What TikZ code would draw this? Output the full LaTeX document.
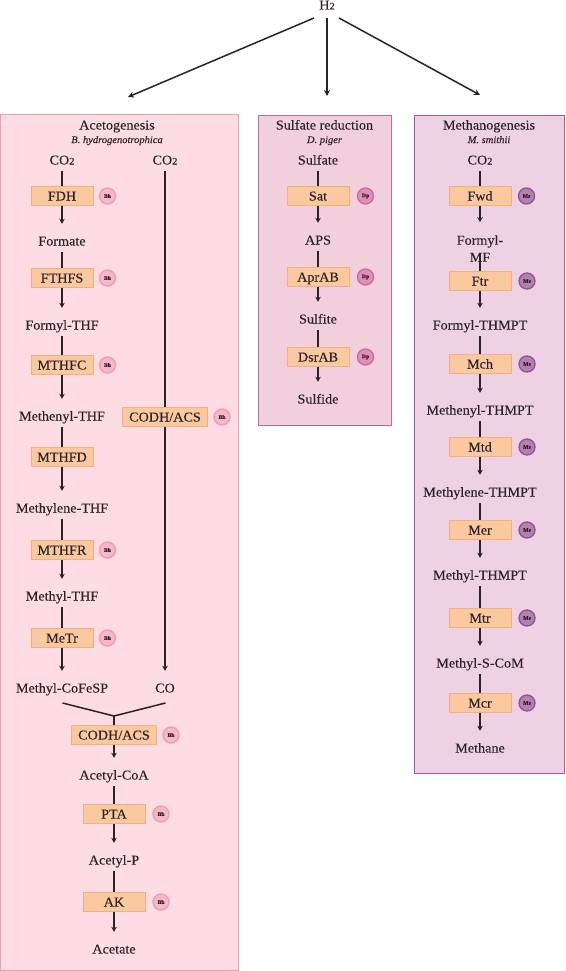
\documentclass[tikz,border=0pt]{standalone}
\usepackage{fontspec}
\setmainfont[FakeStretch=1.05,FakeBold=0.12]{Liberation Serif}
\usetikzlibrary{arrows.meta}
\definecolor{ink}{HTML}{2B2226}
\definecolor{enzfill}{HTML}{FBC9A0}
\definecolor{enzline}{HTML}{F5AE7E}
\definecolor{pink1}{HTML}{EC9DB3}\definecolor{pink1f}{HTML}{F6B7C8}
\definecolor{pink2}{HTML}{C86A9C}\definecolor{pink2f}{HTML}{E08FB8}
\definecolor{pink3}{HTML}{8E5291}\definecolor{pink3f}{HTML}{B57FB0}
\newcommand{\two}{{\fontsize{10}{10}\selectfont 2}}
\tikzset{
 fixtext/.style={text height=10pt,text depth=1pt},
 met/.style={inner sep=0pt,minimum height=22pt,text=ink,fixtext,font=\fontsize{13.5}{14}\selectfont},
 enz/.style={draw=enzline,fill=enzfill,line width=0.8pt,inner sep=0pt,minimum width=62pt,minimum height=18.5pt,text=ink,fixtext,font=\fontsize{13.5}{14}\selectfont},
 spot/.style={circle,draw=#1,line width=1.3pt,inner sep=0pt,minimum size=16pt,text=ink,font=\bfseries\fontsize{5.5}{6}\selectfont},
 bh/.style={spot=pink1,fill=pink1f},
 dp/.style={spot=pink2,fill=pink2f},
 ms/.style={spot=pink3,fill=pink3f},
 panel/.style={line width=1pt,inner sep=0pt},
 ttl/.style={inner sep=0pt,text=ink,fixtext,font=\fontsize{13.5}{14}\selectfont},
 sp/.style={inner sep=0pt,text=ink,text height=8pt,text depth=0pt,font=\itshape\fontsize{10}{11}\selectfont},
 ln/.style={draw=ink,line width=1.5pt},
 arr/.style={ln,-{Stealth[length=5pt,width=5.5pt]},shorten >=6pt},
 big/.style={ln,-{Stealth[length=6pt,width=6pt]}},
}
\begin{document}
\begin{tikzpicture}[x=1pt,y=-1pt]
\useasboundingbox (0,0) rectangle (565,971);
% panels
\node[panel,draw=pink1,fill={rgb,255:red,253;green,220;blue,227},minimum width=238pt,minimum height=855pt] (pA) at (119,542.5) {};
\node[panel,draw={rgb,255:red,190;green,105;blue,150},fill={rgb,255:red,242;green,207;blue,221},minimum width=133pt,minimum height=310pt] (pS) at (324.5,270.5) {};
\node[panel,draw={rgb,255:red,165;green,90;blue,150},fill={rgb,255:red,238;green,210;blue,228},minimum width=150pt,minimum height=658pt] (pM) at (489,444.5) {};
% titles
\node[ttl] (tA) at (117,125) {Acetogenesis};
\node[sp] (sA) at (117,139) {B. hydrogenotrophica};
\node[ttl] (tS) at (324.5,125) {Sulfate reduction};
\node[sp] (sS) at (324.5,139) {D. piger};
\node[ttl] (tM) at (489,125) {Methanogenesis};
\node[sp] (sM) at (489,139) {M. smithii};
% H2
\node[met,minimum height=0pt] (h) at (327,5) {H\two};
\coordinate (hA) at (314,18); \coordinate (hB) at (327,18); \coordinate (hC) at (339,18);
\coordinate (eA) at (128,97); \coordinate (eB) at (327,96); \coordinate (eC) at (480,95);
\draw[big] (hA) -- (eA);
\draw[big] (hB) -- (eB);
\draw[big] (hC) -- (eC);
% Acetogenesis left chain
\node[met] (a0) at (62,160) {CO\two};
\node[enz] (a1) at (62,196) {FDH};
\node[met] (a2) at (62,241) {Formate};
\node[enz] (a3) at (62,278) {FTHFS};
\node[met] (a4) at (62,325) {Formyl-THF};
\node[enz] (a5) at (62,365) {MTHFC};
\node[met] (a6) at (62,416) {Methenyl-THF};
\node[enz] (a7) at (62,457) {MTHFD};
\node[met] (a8) at (62,508) {Methylene-THF};
\node[enz] (a9) at (62,550) {MTHFR};
\node[met] (a10) at (62,596) {Methyl-THF};
\node[enz] (a11) at (62,638) {MeTr};
\node[met] (a12) at (62,688) {Methyl-CoFeSP};
\foreach \i/\j/\k in {0/1/2,2/3/4,4/5/6,6/7/8,8/9/10,10/11/12}{
  \draw[ln] (a\i) -- (a\j);
  \draw[arr] (a\j) -- (a\k);
}
\node[bh] (ba1) at (107.5,196) {Bh};
\node[bh] (ba3) at (107.5,278) {Bh};
\node[bh] (ba5) at (107.5,365) {Bh};
\node[bh] (ba9) at (107.5,550) {Bh};
\node[bh] (ba11) at (107.5,638) {Bh};
% second column
\node[met] (c0) at (165,160) {CO\two};
\node[enz,minimum width=85pt] (c1) at (165,417) {CODH/ACS};
\node[met] (c2) at (165,688) {CO};
\draw[ln] (c0) -- (c1);
\draw[arr] (c1) -- (c2);
\node[bh] (bc1) at (222,417) {Bh};
% merge
\coordinate (jA) at (62.5,703); \coordinate (jB) at (165.5,703); \coordinate (jC) at (114,716);
\node[enz,minimum width=85pt] (d1) at (114,735) {CODH/ACS};
\draw[ln] (jA) -- (jC) -- (jB);
\draw[ln] (jC) -- (d1);
\node[met] (d2) at (114,775) {Acetyl-CoA};
\node[enz] (d3) at (114,814) {PTA};
\node[met] (d4) at (114,860) {Acetyl-P};
\node[enz] (d5) at (114,902) {AK};
\node[met] (d6) at (114,949) {Acetate};
\draw[arr] (d1) -- (d2);
\draw[ln] (d2) -- (d3);
\draw[arr] (d3) -- (d4);
\draw[ln] (d4) -- (d5);
\draw[arr] (d5) -- (d6);
\node[bh] (bd1) at (171,735) {Bh};
\node[bh] (bd3) at (161,814) {Bh};
\node[bh] (bd5) at (161,902) {Bh};
% Sulfate
\node[met] (s0) at (318,160) {Sulfate};
\node[enz] (s1) at (318,196) {Sat};
\node[met] (s2) at (318,240) {APS};
\node[enz] (s3) at (318,277) {AprAB};
\node[met] (s4) at (318,319) {Sulfite};
\node[enz] (s5) at (318,357) {DsrAB};
\node[met] (s6) at (318,399) {Sulfide};
\foreach \i/\j/\k in {0/1/2,2/3/4,4/5/6}{
  \draw[ln] (s\i) -- (s\j);
  \draw[arr] (s\j) -- (s\k);
}
\node[dp] (bs1) at (365.5,196) {Dp};
\node[dp] (bs3) at (365.5,277) {Dp};
\node[dp] (bs5) at (365.5,357) {Dp};
% Methanogenesis
\node[met] (m0) at (480,160) {CO\two};
\node[enz] (m1) at (480,196) {Fwd};
\node[inner sep=0pt,minimum height=22pt,text=ink,align=center,font=\fontsize{13.5}{17}\selectfont] (m2) at (480,248.5) {Formyl-\\MF};
\node[enz] (m3) at (480,281) {Ftr};
\node[met] (m4) at (480,325) {Formyl-THMPT};
\node[enz] (m5) at (480,364) {Mch};
\node[met] (m6) at (480,410) {Methenyl-THMPT};
\node[enz] (m7) at (480,447) {Mtd};
\node[met] (m8) at (480,492) {Methylene-THMPT};
\node[enz] (m9) at (480,530) {Mer};
\node[met] (m10) at (480,575) {Methyl-THMPT};
\node[enz] (m11) at (480,618) {Mtr};
\node[met] (m12) at (480,663) {Methyl-S-CoM};
\node[enz] (m13) at (480,703) {Mcr};
\node[met] (m14) at (480,748) {Methane};
\draw[ln] (m0) -- (m1);
\draw[arr,shorten >=13pt] (m1) -- (m2.north);
\draw[ln,shorten <=6pt] (m2.center) -- (m3);
\draw[arr] (m3) -- (m4);
\foreach \i/\j/\k in {4/5/6,6/7/8,8/9/10,10/11/12,12/13/14}{
  \draw[ln] (m\i) -- (m\j);
  \draw[arr] (m\j) -- (m\k);
}
\node[ms] (bm1) at (526.5,196) {Ms};
\node[ms] (bm3) at (527,281) {Ms};
\node[ms] (bm5) at (527,364) {Ms};
\node[ms] (bm7) at (527,447) {Ms};
\node[ms] (bm9) at (527,530) {Ms};
\node[ms] (bm11) at (527,618) {Ms};
\node[ms] (bm13) at (527,703) {Ms};
\end{tikzpicture}
\end{document}
